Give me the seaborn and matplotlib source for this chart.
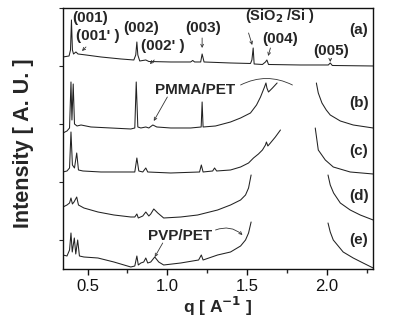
import numpy as np
import pandas as pd
import seaborn as sns
import matplotlib
matplotlib.use("Agg")
import matplotlib.pyplot as plt
from matplotlib.ticker import MultipleLocator

# q [1/A] and intensity (arb. units, curves already offset)
q_a = [0.346, 0.384, 0.393, 0.399, 0.405, 0.412, 0.427, 0.440, 0.490, 0.584, 0.709, 0.790, 0.802, 0.809, 0.815,
       0.827, 0.865, 0.884, 1.021, 1.146, 1.159, 1.171, 1.209, 1.218, 1.230, 1.396, 1.521, 1.530, 1.538, 1.544,
       1.596, 1.615, 1.624, 1.634, 1.834, 2.009, 2.021, 2.034, 2.290]
i_a = [212, 213, 219, 249, 219, 215, 217, 215, 214, 212, 210, 209, 214, 227, 214,
       208, 209, 207.5, 207, 207, 208.5, 207, 207, 215, 207, 206, 205.5, 209, 221, 205,
       204.5, 207, 209, 204.5, 204, 204, 206, 203.5, 203]

q_b1 = [0.346, 0.371, 0.387, 0.396, 0.402, 0.410, 0.418, 0.434, 0.459, 0.521, 0.646, 0.771, 0.796, 0.805, 0.815,
        0.834, 0.865, 0.884, 0.909, 0.934, 1.021, 1.146, 1.212, 1.218, 1.224, 1.302, 1.396, 1.459, 1.521, 1.559,
        1.584, 1.609, 1.618, 1.624, 1.634, 1.659, 1.688]
i_b1 = [136, 138, 141, 187, 149, 185, 145, 143, 144, 142, 141, 140, 141, 187, 142,
        141, 142, 141, 144, 142, 141, 141, 142, 167, 142, 143, 147, 151, 156, 164,
        172, 182, 186, 181, 177, 181, 186]
q_b2 = [1.934, 1.946, 1.969, 1.996, 2.021, 2.084, 2.165, 2.290]
i_b2 = [186, 176, 166, 159, 154, 148, 144, 141]

q_c1 = [0.346, 0.371, 0.387, 0.396, 0.405, 0.418, 0.432, 0.443, 0.471, 0.584, 0.796, 0.809, 0.821, 0.846, 0.865,
        0.877, 1.021, 1.202, 1.213, 1.224, 1.284, 1.296, 1.309, 1.396, 1.459, 1.509, 1.540, 1.571, 1.596, 1.615,
        1.621, 1.630, 1.646, 1.677, 1.709]
i_c1 = [97, 98, 101, 137, 104, 101, 116, 99, 98, 97, 97, 111, 98, 97, 101,
        97, 96, 97, 104, 97, 98, 101, 98, 99, 102, 106, 111, 115, 119, 124,
        127, 123, 126, 132, 139]
q_c2 = [1.927, 1.946, 1.990, 2.040, 2.146, 2.290]
i_c2 = [141, 119, 109, 102, 97, 95]

q_d1 = [0.346, 0.371, 0.387, 0.396, 0.405, 0.415, 0.432, 0.443, 0.477, 0.565, 0.665, 0.771, 0.796, 0.809, 0.818,
        0.846, 0.865, 0.884, 0.896, 0.915, 0.940, 0.977, 1.084, 1.190, 1.315, 1.396, 1.459, 1.490, 1.509, 1.525]
i_d1 = [62, 64, 66, 71, 65, 67, 72, 64, 61, 57, 54, 52, 52, 55, 51,
        53, 57, 53, 55, 60, 56, 51, 52, 54, 59, 64, 69, 74, 81, 94]
q_d2 = [2.007, 2.021, 2.042, 2.084, 2.146, 2.209, 2.290]
i_d2 = [94, 84, 76, 66, 59, 54, 49]

q_e1 = [0.346, 0.371, 0.387, 0.396, 0.404, 0.417, 0.426, 0.438, 0.449, 0.477, 0.565, 0.665, 0.771, 0.796, 0.809,
        0.818, 0.834, 0.852, 0.865, 0.877, 0.896, 0.921, 0.946, 0.977, 1.084, 1.196, 1.213, 1.224, 1.315, 1.396,
        1.459, 1.490, 1.509, 1.525]
i_e1 = [14, 13, 19, 36, 17, 31, 15, 29, 13, 12, 11, 7, 2, 3, 13,
        4, 6, 7, 11, 6, 7, 12, 7, 4, 6, 9, 14, 9, 14, 17,
        23, 29, 36, 47]
q_e2 = [2.007, 2.021, 2.040, 2.102, 2.165, 2.227, 2.290]
i_e2 = [46, 37, 29, 17, 11, 6, 1]

curve_labels = ["(a)", "(b)", "(c)", "(d)", "(e)"]
label_levels = [239, 166, 118, 73, 29]
y_ticks = [29, 87, 145, 203, 261]

sns.set_style("ticks")
plt.rcParams["font.family"] = ["Liberation Sans", "DejaVu Sans"]

fig = plt.figure(figsize=(4.15, 3.18), dpi=100)
ax = fig.add_axes([0.1518, 0.1541, 0.747, 0.8208])

segments = [(q_a, i_a), (q_b1, i_b1), (q_b2, i_b2), (q_c1, i_c1), (q_c2, i_c2),
            (q_d1, i_d1), (q_d2, i_d2), (q_e1, i_e1), (q_e2, i_e2)]
for qq, ii in segments:
    sns.lineplot(x=qq, y=ii, ax=ax, color="#222222", lw=0.75, sort=False, estimator=None)

ax.set_xlim(0.346, 2.289)
ax.set_ylim(0, 261)
ax.set_yticks(y_ticks)
ax.set_yticklabels([])
ax.tick_params(axis="y", direction="out", length=3, width=0.8)
ax.xaxis.set_major_locator(MultipleLocator(0.5))
ax.xaxis.set_minor_locator(MultipleLocator(0.25))
ax.tick_params(axis="x", which="major", direction="out", length=4, width=1, labelsize=12, colors="#111111")
ax.tick_params(axis="x", which="minor", direction="out", length=3, width=1)
for sp in ax.spines.values():
    sp.set_visible(True)
    sp.set_linewidth(1.0)
    sp.set_color("#111111")

ax.set_xlabel(r"q [ A$^{\mathbf{-1}}$ ]", fontsize=12.5, fontweight="bold", labelpad=0)
ax.set_ylabel("Intensity [ A. U. ]", fontsize=15.5, fontweight="bold")
ax.yaxis.set_label_coords(-0.095, 0.481)

for lab, lev in zip(curve_labels, label_levels):
    ax.text(2.20, lev, lab, fontsize=11, fontweight="bold", ha="center", va="center")

arr = dict(arrowstyle="->", lw=0.6, color="#333333", shrinkA=0, shrinkB=0, mutation_scale=5)
bold = dict(fontsize=11, fontweight="bold", ha="center", va="center")
ax.text(0.515, 251, "(001)", **bold)
ax.text(0.565, 233, "(001' )", **bold)
ax.annotate("", xy=(0.465, 218), xytext=(0.490, 222), arrowprops=arr)
ax.text(0.834, 241, "(002)", **bold)
ax.text(0.971, 223, "(002' )", **bold)
ax.annotate("", xy=(0.890, 205), xytext=(0.918, 209), arrowprops=arr)
ax.text(1.227, 241, "(003)", **bold)
ax.annotate("", xy=(1.218, 221), xytext=(1.218, 231), arrowprops=arr)
ax.text(1.709, 253, r"(SiO$_{\mathbf{2}}$ /Si )", fontsize=10.5, fontweight="bold", ha="center", va="center")
ax.annotate("", xy=(1.532, 224), xytext=(1.509, 236), arrowprops=arr)
ax.text(1.709, 230, "(004)", **bold)
ax.annotate("", xy=(1.632, 213), xytext=(1.646, 221), arrowprops=arr)
ax.text(2.027, 218, "(005)", **bold)
ax.annotate("", xy=(2.021, 207), xytext=(2.021, 210), arrowprops=arr)

ax.text(1.171, 179, "PMMA/PET", **bold)
ax.annotate("", xy=(0.915, 148), xytext=(1.0, 172), arrowprops=arr)
ax.annotate("", xy=(1.784, 184), xytext=(1.459, 184),
            arrowprops=dict(arr, arrowstyle="-", connectionstyle="arc3,rad=-0.25"))
ax.text(1.077, 33, "PVP/PET", **bold)
ax.annotate("", xy=(0.921, 12), xytext=(0.971, 26), arrowprops=arr)
ax.annotate("", xy=(1.471, 34), xytext=(1.302, 39),
            arrowprops=dict(arr, connectionstyle="arc3,rad=-0.3"))

fig.savefig("out.png", dpi=100)
